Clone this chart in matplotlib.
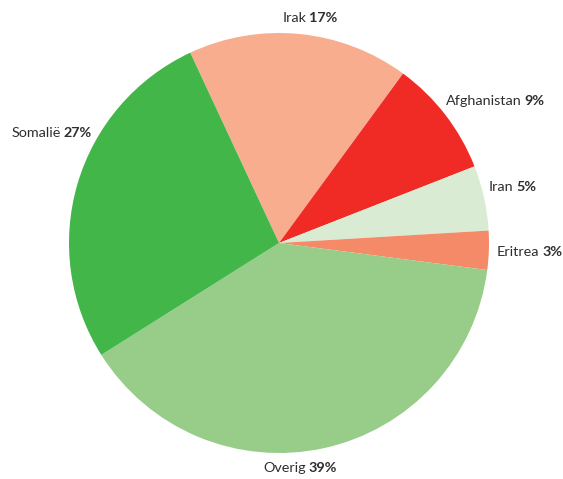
import matplotlib
matplotlib.use("Agg")
import matplotlib.pyplot as plt
from matplotlib.offsetbox import TextArea, HPacker, AnnotationBbox

# ── Data ──────────────────────────────────
landen = ["Irak", "Afghanistan", "Iran", "Eritrea", "Overig", "Somalië"]
aandeel = [17, 9, 5, 3, 39, 27]
kleuren = ["#f8ae8e", "#f02b25", "#d9ecd3", "#f58a69", "#97cc89", "#43b649"]

# label anchor (pixel x, pixel y from top, horizontal alignment)
label_pos = [
    (310, 18, "center"),
    (446, 101, "left"),
    (489, 187, "left"),
    (497, 252, "left"),
    (300, 468, "center"),
    (92, 133, "right"),
]

W, H = 563, 479
CX, CY, R = 279, 243, 210
TEXT = "#2e2e2e"
FS = 10.4

fig = plt.figure(figsize=(W / 100, H / 100), dpi=100, facecolor="white")
ax = fig.add_axes([0, 0, 1, 1])
ax.pie(aandeel, colors=kleuren, startangle=115, counterclock=False,
       radius=1, center=(0, 0), wedgeprops=dict(linewidth=0))
ax.set_xlim(-CX / R, (W - CX) / R)
ax.set_ylim(-(H - CY) / R, CY / R)
ax.set_aspect("equal")
ax.axis("off")

align = {"left": 0.0, "center": 0.5, "right": 1.0}
for naam, pct, (px, py, ha) in zip(landen, aandeel, label_pos):
    t1 = TextArea(naam, textprops=dict(color=TEXT, fontsize=FS, family="Lato"))
    t2 = TextArea(f"{pct}%", textprops=dict(color=TEXT, fontsize=FS,
                                           family="Lato", fontweight="bold"))
    box = HPacker(children=[t1, t2], align="baseline", pad=0, sep=2)
    ab = AnnotationBbox(box, (px, H - py), xycoords="figure pixels",
                        box_alignment=(align[ha], 0.5), frameon=False, pad=0)
    ax.add_artist(ab)

fig.savefig("out.png", dpi=100, facecolor="white")
